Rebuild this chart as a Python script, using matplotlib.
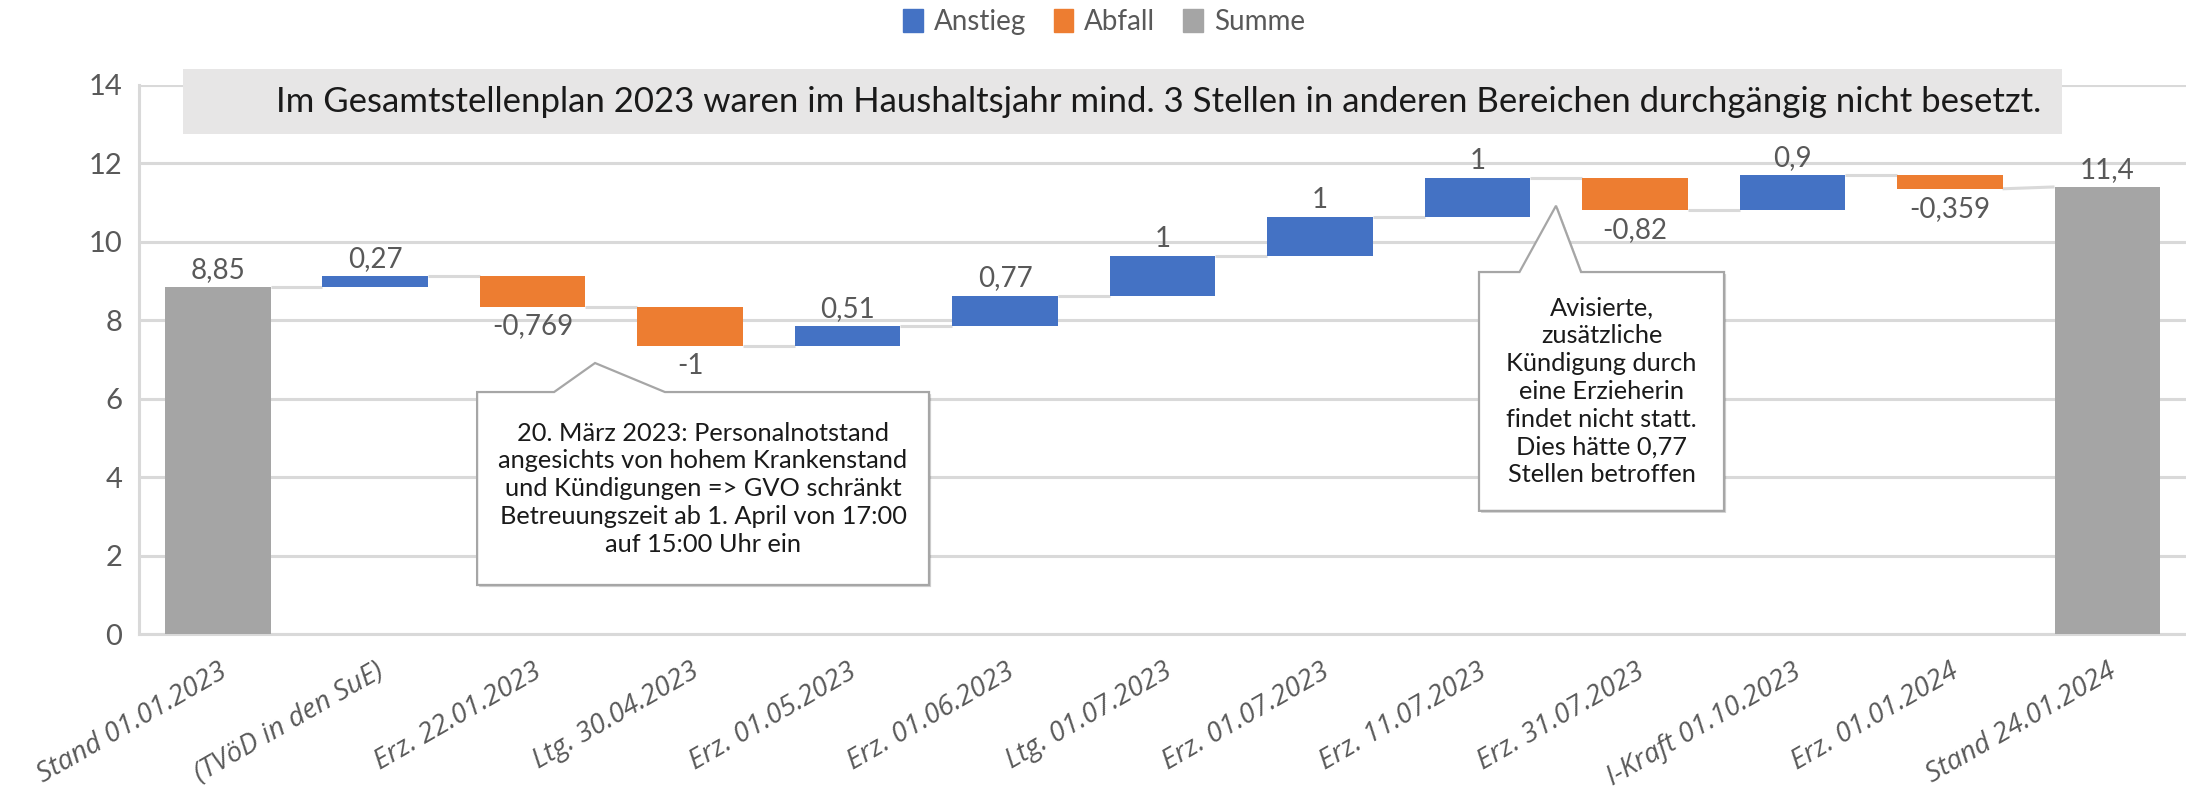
import matplotlib
matplotlib.use("Agg")
import matplotlib.pyplot as plt
import matplotlib.patheffects as pe
from matplotlib import font_manager
from matplotlib.patches import Polygon, Rectangle, Patch

# ---- data -------------------------------------------------------------
CATEGORIES = [
    "Stand 01.01.2023", "(TVöD in den SuE)", "Erz. 22.01.2023", "Ltg. 30.04.2023",
    "Erz. 01.05.2023", "Erz. 01.06.2023", "Ltg. 01.07.2023", "Erz. 01.07.2023",
    "Erz. 11.07.2023", "Erz. 31.07.2023", "I-Kraft 01.10.2023", "Erz. 01.01.2024",
    "Stand 24.01.2024",
]
VALUES = [8.85, 0.27, -0.769, -1, 0.51, 0.77, 1, 1, 1, -0.82, 0.9, -0.359, 11.4]
IS_TOTAL = [True] + [False] * 11 + [True]

TITLE = ("Im Gesamtstellenplan 2023 waren im Haushaltsjahr mind. 3 Stellen "
         "in anderen Bereichen durchgängig nicht besetzt.")
NOTE_1 = ("20. März 2023: Personalnotstand\nangesichts von hohem Krankenstand\n"
          "und Kündigungen => GVO schränkt\nBetreuungszeit ab 1. April von 17:00\n"
          "auf 15:00 Uhr ein")
NOTE_2 = ("Avisierte,\nzusätzliche\nKündigung durch\neine Erzieherin\n"
          "findet nicht statt.\nDies hätte 0,77\nStellen betroffen")

BLUE = "#4472C4"
ORANGE = "#ED7D31"
GREY = "#A5A5A5"
GRID = "#D9D9D9"
TXT = "#595959"

installed = {f.name for f in font_manager.fontManager.ttflist}


def pick(*names):
    for n in names:
        if n in installed:
            return n
    return "DejaVu Sans"


MAIN = pick("Lato", "Liberation Sans")
ITAL = pick("Open Sans", "Noto Sans", "DejaVu Sans")
plt.rcParams["font.family"] = [MAIN, "DejaVu Sans"]

fig = plt.figure(figsize=(21.86, 7.94), dpi=100)
ax = fig.add_axes([0.0636, 0.2015, 0.9364, 0.6915])

# running totals
bottoms, tops, colors = [], [], []
run = 0.0
for v, tot in zip(VALUES, IS_TOTAL):
    if tot:
        start, end = 0.0, v
        run = v
        colors.append(GREY)
    else:
        start, end = run, run + v
        run = end
        colors.append(BLUE if v > 0 else ORANGE)
    bottoms.append(min(start, end))
    tops.append(max(start, end))

x = list(range(len(CATEGORIES)))
w = 0.67
heights = [t - b for t, b in zip(tops, bottoms)]
ax.bar(x, heights, bottom=bottoms, width=w, color=colors, zorder=3)

# connectors
for i in range(len(VALUES) - 1):
    if IS_TOTAL[i]:
        y0 = VALUES[i]
    else:
        y0 = tops[i] if VALUES[i] > 0 else bottoms[i]
    y1 = VALUES[i + 1] if IS_TOTAL[i + 1] else (bottoms[i + 1] if VALUES[i + 1] > 0 else tops[i + 1])
    ax.plot([i + w / 2, i + 1 - w / 2], [y0, y1], color=GRID, lw=2.2, zorder=2,
            solid_capstyle="butt")


def fmt(v):
    return f"{v:g}".replace(".", ",")


for i, v in enumerate(VALUES):
    if IS_TOTAL[i] or v > 0:
        ax.annotate(fmt(v), (i, tops[i]), xytext=(0, 3), textcoords="offset points",
                    ha="center", va="bottom", fontsize=20, color=TXT, zorder=5)
    else:
        ax.annotate(fmt(v), (i, bottoms[i]), xytext=(0, -5), textcoords="offset points",
                    ha="center", va="top", fontsize=20, color=TXT, zorder=5)

ax.set_xlim(-0.5, len(CATEGORIES) - 0.5)
ax.set_ylim(0, 14)
ax.set_yticks(range(0, 15, 2))
ax.grid(axis="y", color=GRID, lw=2.2, zorder=0)
ax.set_axisbelow(True)
for s in ("top", "right"):
    ax.spines[s].set_visible(False)
for s in ("left", "bottom"):
    ax.spines[s].set_color(GRID)
    ax.spines[s].set_linewidth(2.2)
ax.tick_params(axis="y", length=0, pad=12, labelsize=21, labelcolor=TXT)
ax.tick_params(axis="x", length=0, pad=17)
ax.set_xticks(x)
ax.set_xticklabels(CATEGORIES, rotation=30, ha="right", va="top",
                   rotation_mode="anchor", fontsize=20, color=TXT,
                   family=[ITAL, "DejaVu Sans"], style="italic")


# callouts (data coords)
def callout(L, R, B, T, bl, br, tip, text):
    pts = [(L, B), (R, B), (R, T), (br, T), tip, (bl, T), (L, T)]
    ax.add_patch(Polygon(pts, closed=True, facecolor="white", edgecolor="#A6A6A6",
                         lw=1.6, zorder=6, clip_on=False,
                         path_effects=[pe.SimplePatchShadow(offset=(1.5, -1.5),
                                                            alpha=0.25), pe.Normal()]))
    ax.text((L + R) / 2, (B + T) / 2, text, ha="center", va="center", fontsize=18.3,
            color="#1a1a1a", linespacing=1.25, zorder=7)


callout(1.647, 4.517, 1.25, 6.17, 2.136, 2.840, (2.396, 6.91), NOTE_1)
callout(8.010, 9.566, 3.14, 9.23, 8.267, 8.658, (8.499, 10.92), NOTE_2)

# title box
fig.patches.append(Rectangle((0.0837, 0.8312), 0.8596, 0.0819, transform=fig.transFigure,
                             facecolor="#E7E6E6", edgecolor="none", zorder=1))
fig.text(0.530, 0.872, TITLE, ha="center", va="center", fontsize=25, color="#1a1a1a")

# legend
handles = [Patch(color=BLUE, label="Anstieg"), Patch(color=ORANGE, label="Abfall"),
           Patch(color=GREY, label="Summe")]
fig.legend(handles=handles, loc="center", bbox_to_anchor=(0.505, 0.972), ncol=3,
           frameon=False, fontsize=20, labelcolor=TXT, handlelength=0.7,
           handleheight=0.9, handletextpad=0.4, columnspacing=1.0)

fig.savefig("out.png", dpi=100)
